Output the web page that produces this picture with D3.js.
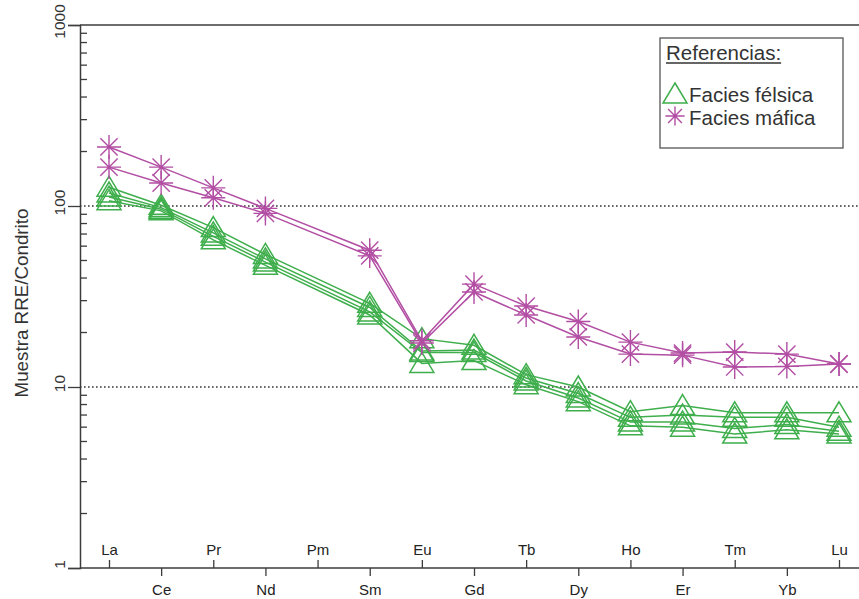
<!DOCTYPE html>
<html>
<head>
<meta charset="utf-8">
<script src="https://cdn.jsdelivr.net/npm/d3@7/dist/d3.min.js"></script>
<style>
  html, body { margin: 0; padding: 0; background: #fff; }
  svg { display: block; font-family: "Liberation Sans", Arial, Helvetica, sans-serif; }
</style>
</head>
<body>
<svg id="chart" width="859" height="599"></svg>
<script>
// Rare earth elements, chondrite-normalised (Pm has no analysis)
const elements = ["La","Ce","Pr","Nd","Pm","Sm","Eu","Gd","Tb","Dy","Ho","Er","Tm","Yb","Lu"];

// Felsic facies samples
const felsic1 = [127, 101, 76, 54, null, 29.0, 18.5, 17.0, 11.7, 10.0, 7.3, 7.9, 7.2, 7.2, 7.2];
const felsic2 = [118,  98, 71, 51, null, 27.5, 15.8, 16.0, 11.2,  9.2, 6.8, 7.0, 6.8, 6.8, 6.0];
const felsic3 = [112,  96, 68, 49, null, 26.0, 15.5, 15.5, 10.8,  8.7, 6.4, 6.4, 5.9, 6.2, 5.7];
const felsic4 = [107,  94, 65, 47, null, 25.0, 13.5, 14.0, 10.3,  8.3, 6.1, 6.0, 5.5, 5.8, 5.5];

// Mafic facies samples
const mafic1 = [212, 164, 126, 97, null, 57, 18.0, 37.0, 28.0, 23.0, 17.7, 15.4, 15.6, 15.2, 13.4];
const mafic2 = [164, 134, 111, 91, null, 53, 17.5, 33.5, 25.0, 18.9, 15.2, 15.0, 12.9, 13.0, 13.4];

const yTicks = [1, 10, 100, 1000];
const gridValues = [10, 100];
const yTitle = "Muestra RRE/Condrito";
const legendTitle = "Referencias:";
const legendLabels = ["Facies félsica", "Facies máfica"];

const GREEN = "#3fae4c";
const MAGENTA = "#b24ea3";
const AXIS = "#3c3c3c";

const svg = d3.select("#chart");

const x = d3.scalePoint().domain(elements).range([109, 839]);
const y = d3.scaleLog().domain([1, 1000]).range([568, 25]);
const xLeft = 80, xRight = 859;

// dotted reference lines
svg.append("g").selectAll("line").data(gridValues).join("line")
  .attr("x1", xLeft).attr("x2", xRight)
  .attr("y1", d => y(d)).attr("y2", d => y(d))
  .attr("stroke", "#333").attr("stroke-width", 1.4)
  .attr("stroke-dasharray", "1.6,2.4");

// frame lines: top and bottom
svg.append("line").attr("x1", xLeft).attr("x2", xRight).attr("y1", y(1000)).attr("y2", y(1000))
  .attr("stroke", AXIS).attr("stroke-width", 1.5);
svg.append("line").attr("x1", xLeft).attr("x2", xRight).attr("y1", y(1)).attr("y2", y(1))
  .attr("stroke", AXIS).attr("stroke-width", 1.5);

// y axis: major ticks outside, labels rotated
const yAxis = svg.append("g").attr("transform", `translate(${xLeft},0)`)
  .call(d3.axisLeft(y).tickValues(yTicks).tickSize(12).tickFormat(d3.format("d")));
yAxis.select(".domain").attr("stroke", AXIS).attr("stroke-width", 1.5);
yAxis.selectAll(".tick line").attr("stroke", AXIS).attr("stroke-width", 1.3);
yAxis.selectAll(".tick text")
  .attr("x", null).attr("dy", null)
  .attr("transform", "translate(-15,-4) rotate(-90)")
  .attr("text-anchor", "middle")
  .attr("font-size", 15.5).attr("fill", "#333");

// minor ticks inside the plot
const minor = [];
[1, 10, 100].forEach(dec => { for (let k = 2; k <= 9; k++) minor.push(dec * k); });
svg.append("g").selectAll("line").data(minor).join("line")
  .attr("x1", xLeft).attr("x2", xLeft + 7)
  .attr("y1", d => y(d)).attr("y2", d => y(d))
  .attr("stroke", AXIS).attr("stroke-width", 1.3);

// x axis: alternating labels above and below
const upper = elements.filter((e, i) => i % 2 === 0);
const lower = elements.filter((e, i) => i % 2 === 1);
const xTop = svg.append("g").attr("transform", `translate(0,${y(1)})`)
  .call(d3.axisTop(x).tickValues(upper).tickSize(8).tickPadding(5));
const xBot = svg.append("g").attr("transform", `translate(0,${y(1)})`)
  .call(d3.axisBottom(x).tickValues(lower).tickSize(8).tickPadding(8));
[xTop, xBot].forEach(g => {
  g.select(".domain").remove();
  g.selectAll(".tick line").attr("stroke", AXIS).attr("stroke-width", 1.3);
  g.selectAll(".tick text").attr("font-size", 15).attr("fill", "#222")
    .attr("font-family", "'Liberation Sans', Arial, sans-serif");
});

// y title
svg.append("text")
  .attr("transform", "translate(28,303) rotate(-90)")
  .attr("text-anchor", "middle")
  .attr("font-size", 18.8).attr("fill", "#333")
  .text(yTitle);

// series
const toPoints = arr => elements.map((e, i) => ({ e, v: arr[i] })).filter(d => d.v != null);
const line = d3.line().x(d => x(d.e)).y(d => y(d.v));

function trianglePath(s) {
  const w = 12 * s, up = 11 * s, dn = 9 * s;
  return `M0,${-up}L${w},${dn}L${-w},${dn}Z`;
}
function asteriskPath(s) {
  const r = 12 * s, d = r * 0.72;
  return `M${-r},0H${r}M0,${-r}V${r}M${-d},${-d}L${d},${d}M${-d},${d}L${d},${-d}`;
}

const felsic = [felsic1, felsic2, felsic3, felsic4];
const mafic = [mafic1, mafic2];

const gF = svg.append("g");
felsic.forEach(arr => {
  const pts = toPoints(arr);
  gF.append("path").datum(pts).attr("d", line)
    .attr("fill", "none").attr("stroke", GREEN).attr("stroke-width", 1.5);
  gF.append("g").selectAll("path").data(pts).join("path")
    .attr("transform", d => `translate(${x(d.e)},${y(d.v)})`)
    .attr("d", trianglePath(1))
    .attr("fill", "none").attr("stroke", GREEN).attr("stroke-width", 1.5);
});

const gM = svg.append("g");
mafic.forEach(arr => {
  const pts = toPoints(arr);
  gM.append("path").datum(pts).attr("d", line)
    .attr("fill", "none").attr("stroke", MAGENTA).attr("stroke-width", 1.5);
  gM.append("g").selectAll("path").data(pts).join("path")
    .attr("transform", d => `translate(${x(d.e)},${y(d.v)})`)
    .attr("d", asteriskPath(1))
    .attr("fill", "none").attr("stroke", MAGENTA).attr("stroke-width", 1.4);
});

// legend
const lg = svg.append("g");
lg.append("rect").attr("x", 660).attr("y", 38).attr("width", 183).attr("height", 110)
  .attr("fill", "#fff").attr("stroke", "#555").attr("stroke-width", 1.3);
const lt = lg.append("text").attr("x", 666).attr("y", 60)
  .attr("font-size", 20.5).attr("fill", "#333").text(legendTitle);
const tw = lt.node().getComputedTextLength();
lg.append("line").attr("x1", 666).attr("x2", 666 + tw).attr("y1", 63).attr("y2", 63)
  .attr("stroke", "#333").attr("stroke-width", 1.3);
lg.append("path").attr("transform", "translate(675,94)").attr("d", trianglePath(1.0))
  .attr("fill", "none").attr("stroke", GREEN).attr("stroke-width", 1.5);
lg.append("path").attr("transform", "translate(675,116)").attr("d", asteriskPath(0.8))
  .attr("fill", "none").attr("stroke", MAGENTA).attr("stroke-width", 1.4);
lg.selectAll("text.item").data(legendLabels).join("text").attr("class", "item")
  .attr("x", 689).attr("y", (d, i) => 102 + i * 23)
  .attr("font-size", 20.5).attr("fill", "#333").text(d => d);
</script>
</body>
</html>
